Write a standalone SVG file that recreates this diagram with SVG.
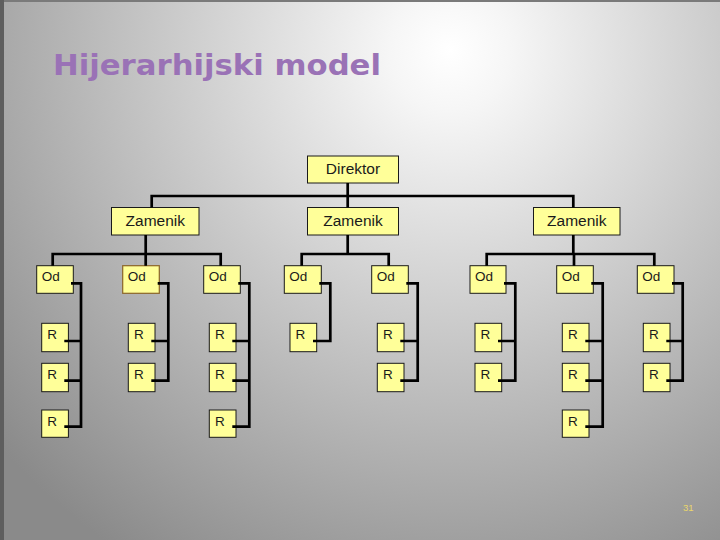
<svg xmlns="http://www.w3.org/2000/svg" width="720" height="540" viewBox="0 0 720 540">
<defs>
<radialGradient id="bg" gradientUnits="userSpaceOnUse" cx="450" cy="50" r="600">
<stop offset="0" stop-color="#ffffff"/>
<stop offset="0.1" stop-color="#f6f6f6"/>
<stop offset="1" stop-color="#8a8a8a"/>
</radialGradient>
<style>
.box{fill:#ffff99;stroke:#1a1a1a;stroke-width:1}
.sel{fill:#ffff99;stroke:#8a6428;stroke-width:1.2}
.big{font-family:"Liberation Sans",Arial,sans-serif;font-size:15.5px;fill:#1a1a1a;text-anchor:middle}
.sm{font-family:"Liberation Sans",Arial,sans-serif;font-size:13.5px;fill:#1a1a1a}
.c{fill:none;stroke:#000;stroke-width:2.7;stroke-linejoin:miter}
</style>
</defs>
<rect x="0" y="0" width="720" height="540" fill="url(#bg)"/>
<rect x="0" y="0" width="720" height="2" fill="#7a7a7a"/>
<rect x="0" y="0" width="4" height="540" fill="#5e5e5e"/>
<text x="53" y="75" font-family="'DejaVu Sans',Verdana,sans-serif" font-weight="bold" font-size="29" fill="#9a72b6" textLength="328" lengthAdjust="spacingAndGlyphs">Hijerarhijski model</text>

<g id="direktor"><rect class="box" x="307.5" y="156" width="91" height="27"/><text class="big" x="353" y="174">Direktor</text></g>
<g id="zamenik1"><rect class="box" x="111.5" y="207.5" width="87.5" height="27.5"/><text class="big" x="155.3" y="226">Zamenik</text></g>
<g id="zamenik2"><rect class="box" x="307.5" y="207.5" width="91" height="27.5"/><text class="big" x="353" y="226">Zamenik</text></g>
<g id="zamenik3"><rect class="box" x="533.5" y="207.5" width="86.5" height="27.5"/><text class="big" x="576.8" y="226">Zamenik</text></g>

<g id="od1"><rect class="box" x="36.7" y="265.7" width="36.6" height="27.6"/><text class="sm" x="41.7" y="281">Od</text></g>
<g id="od2"><rect class="sel" x="122.7" y="265.7" width="36.6" height="27.6"/><text class="sm" x="127.7" y="281">Od</text></g>
<g id="od3"><rect class="box" x="203.7" y="265.7" width="36.6" height="27.6"/><text class="sm" x="208.7" y="281">Od</text></g>
<g id="od4"><rect class="box" x="284.3" y="265.7" width="37" height="27.6"/><text class="sm" x="289.3" y="281">Od</text></g>
<g id="od5"><rect class="box" x="371.7" y="265.7" width="36.6" height="27.6"/><text class="sm" x="376.7" y="281">Od</text></g>
<g id="od6"><rect class="box" x="470" y="265.7" width="36" height="27.6"/><text class="sm" x="475" y="281">Od</text></g>
<g id="od7"><rect class="box" x="556.7" y="265.7" width="36.6" height="27.6"/><text class="sm" x="561.7" y="281">Od</text></g>
<g id="od8"><rect class="box" x="637.3" y="265.7" width="36.7" height="27.6"/><text class="sm" x="642.3" y="281">Od</text></g>

<g id="r1a"><rect class="box" x="41.7" y="323.3" width="26.7" height="28.4"/><text class="sm" x="47.3" y="339">R</text></g>
<g id="r2a"><rect class="box" x="128.3" y="323.3" width="26.7" height="28.4"/><text class="sm" x="133.9" y="339">R</text></g>
<g id="r3a"><rect class="box" x="209.3" y="323.3" width="26.7" height="28.4"/><text class="sm" x="214.9" y="339">R</text></g>
<g id="r4a"><rect class="box" x="290" y="323.3" width="26.7" height="28.4"/><text class="sm" x="295.6" y="339">R</text></g>
<g id="r5a"><rect class="box" x="377.3" y="323.3" width="26.7" height="28.4"/><text class="sm" x="382.9" y="339">R</text></g>
<g id="r6a"><rect class="box" x="475" y="323.3" width="26.7" height="28.4"/><text class="sm" x="480.6" y="339">R</text></g>
<g id="r7a"><rect class="box" x="562.3" y="323.3" width="26.7" height="28.4"/><text class="sm" x="567.9" y="339">R</text></g>
<g id="r8a"><rect class="box" x="643.3" y="323.3" width="26.7" height="28.4"/><text class="sm" x="648.9" y="339">R</text></g>

<g id="r1b"><rect class="box" x="41.7" y="363.3" width="26.7" height="28.4"/><text class="sm" x="47.3" y="379">R</text></g>
<g id="r2b"><rect class="box" x="128.3" y="363.3" width="26.7" height="28.4"/><text class="sm" x="133.9" y="379">R</text></g>
<g id="r3b"><rect class="box" x="209.3" y="363.3" width="26.7" height="28.4"/><text class="sm" x="214.9" y="379">R</text></g>
<g id="r5b"><rect class="box" x="377.3" y="363.3" width="26.7" height="28.4"/><text class="sm" x="382.9" y="379">R</text></g>
<g id="r6b"><rect class="box" x="475" y="363.3" width="26.7" height="28.4"/><text class="sm" x="480.6" y="379">R</text></g>
<g id="r7b"><rect class="box" x="562.3" y="363.3" width="26.7" height="28.4"/><text class="sm" x="567.9" y="379">R</text></g>
<g id="r8b"><rect class="box" x="643.3" y="363.3" width="26.7" height="28.4"/><text class="sm" x="648.9" y="379">R</text></g>

<g id="r1c"><rect class="box" x="41.7" y="410" width="26.7" height="27.3"/><text class="sm" x="47.3" y="425.5">R</text></g>
<g id="r3c"><rect class="box" x="209.3" y="410" width="26.7" height="27.3"/><text class="sm" x="214.9" y="425.5">R</text></g>
<g id="r7c"><rect class="box" x="562.3" y="410" width="26.7" height="27.3"/><text class="sm" x="567.9" y="425.5">R</text></g>

<g id="connectors">
<path class="c" d="M347.7 183V207.5M151.7 207.5V196H573.3V207.5"/>
<path class="c" d="M145.7 235V254M52.7 265.7V254H220.7V265.7M145.7 254V265.7"/>
<path class="c" d="M347.7 235V254M301.7 265.7V254H388.7V265.7"/>
<path class="c" d="M573.3 235V254M486.7 265.7V254H654.3V265.7M574 254V265.7"/>
<path class="c" d="M71 283.3H81V426.7H64.3M64.3 341H81M64.3 380.7H81"/>
<path class="c" d="M157.7 283.3H168.3V380.7H151.3M151.3 341H168.3"/>
<path class="c" d="M238.3 283.3H249.3V426.7H232.3M232.3 341H249.3M232.3 380.7H249.3"/>
<path class="c" d="M319.3 283.3H330.3V341H313"/>
<path class="c" d="M406.3 283.3H417.7V380.7H400.3M400.3 341H417.7"/>
<path class="c" d="M504 283.3H515.3V380.7H498M498 341H515.3"/>
<path class="c" d="M591.3 283.3H602.7V426.7H585.3M585.3 341H602.7M585.3 380.7H602.7"/>
<path class="c" d="M672 283.3H682.7V380.7H666.3M666.3 341H682.7"/>
</g>
<text x="683" y="511" font-family="'Liberation Sans',Arial,sans-serif" font-size="9.5" fill="#ead76a">31</text>
</svg>
